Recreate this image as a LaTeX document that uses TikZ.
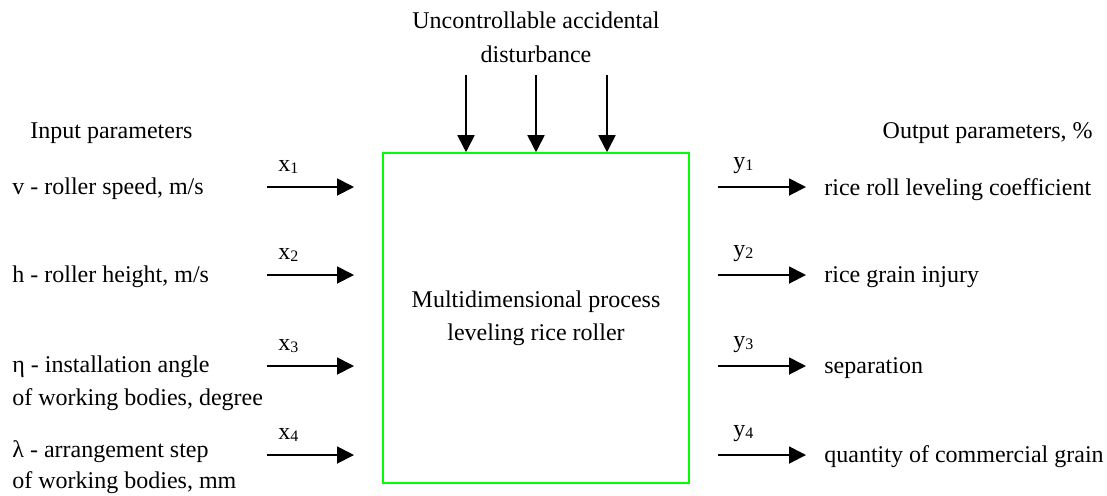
\documentclass[tikz,border=0pt]{standalone}
\usepackage{fontspec}
\setmainfont{Liberation Serif}
\usetikzlibrary{arrows.meta}
\definecolor{boxgreen}{RGB}{0,255,0}
\begin{document}
\begin{tikzpicture}[x=0.5pt,y=-0.5pt,
  every node/.style={font=\fontsize{12pt}{16.5pt}\selectfont, inner sep=0pt},
  flow/.style={line width=0.9pt, -{Triangle[length=8.5pt,width=8.5pt]}},
  lbl/.style={anchor=base west},
  sub/.style={anchor=base west},
  procbox/.style={draw=boxgreen, line width=0.8pt, minimum width=153pt, minimum height=165pt, align=center}]
\useasboundingbox (0,0) rectangle (1107,495);

% process box
\node[procbox] (box) at (536,318) {Multidimensional process\\leveling rice roller};

% disturbance
\node[anchor=base, align=center, font=\fontsize{12pt}{17pt}\selectfont] (dist) at (536,62) {Uncontrollable accidental\\disturbance};
\foreach \i/\x in {1/466,2/536,3/607}{
  \coordinate (d\i) at (\x,75);
  \draw[flow] (d\i) -- (d\i |- box.north);
}

% headers
\node[lbl] (inhead) at (30,138) {Input parameters};
\node[anchor=base east] (outhead) at (1093,138) {Output parameters, \%};

% input texts
\node[lbl] (in1) at (12,194) {v - roller speed, m/s};
\node[lbl] (in2) at (12,282) {h - roller height, m/s};
\node[lbl, align=left] (in3) at (12,405) {η - installation angle\\of working bodies, degree};
\node[lbl, align=left, font=\fontsize{12pt}{15.5pt}\selectfont] (in4) at (12,488) {λ - arrangement step\\of working bodies, mm};

% output texts
\node[lbl] (out1) at (824,195) {rice roll leveling coefficient};
\node[lbl] (out2) at (824,282) {rice grain injury};
\node[lbl] (out3) at (824,373) {separation};
\node[lbl] (out4) at (824,462) {quantity of commercial grain};

\foreach \i/\y in {1/187,2/275,3/366,4/455}{
  \coordinate (xs\i) at (267,\y);
  \coordinate (xe\i) at (354,\y);
  \coordinate (ys\i) at (718,\y);
  \coordinate (ye\i) at (806,\y);
  \draw[flow] (xs\i) -- (xe\i);
  \draw[flow] (ys\i) -- (ye\i);
  \node[sub] (xl\i) at (278,\y-16) {x\raisebox{-0.25ex}{\fontsize{8pt}{8pt}\selectfont\i}};
  \node[sub] (yl\i) at (733,\y-19) {y\raisebox{-0.25ex}{\fontsize{8pt}{8pt}\selectfont\i}};
}
\end{tikzpicture}
\end{document}
